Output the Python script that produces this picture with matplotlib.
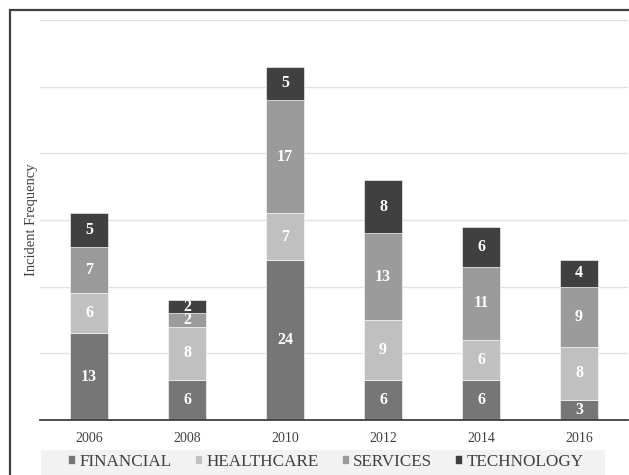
import matplotlib
matplotlib.use("Agg")
import matplotlib.pyplot as plt
from matplotlib.patches import Rectangle
import numpy as np

years = ["2006", "2008", "2010", "2012", "2014", "2016"]
financial = [13, 6, 24, 6, 6, 3]
healthcare = [6, 8, 7, 9, 6, 8]
services = [7, 2, 17, 13, 11, 9]
technology = [5, 2, 5, 8, 6, 4]
series_names = ["FINANCIAL", "HEALTHCARE", "SERVICES", "TECHNOLOGY"]
colors = ["#767676", "#c0c0c0", "#9b9b9b", "#404040"]

plt.rcParams['font.family'] = ['Liberation Serif', 'DejaVu Serif']

W, H = 629, 475
fig = plt.figure(figsize=(W / 100, H / 100), dpi=100)
ax = fig.add_axes([40 / W, (H - 420) / H, 588 / W, 400 / H])

x = np.arange(len(years))
bottom = np.zeros(len(years))
handles = []
for name, vals, c in zip(series_names, [financial, healthcare, services, technology], colors):
    vals = np.array(vals, dtype=float)
    bars = ax.bar(x, vals, 0.39, bottom=bottom, color=c, edgecolor="white", linewidth=0.4, label=name, zorder=3)
    for xi, b, v in zip(x, bottom, vals):
        ax.text(xi, b + v / 2, f"{int(v)}", ha="center", va="center", color="white",
                fontsize=11.5, fontweight="bold", zorder=4)
    bottom += vals
    handles.append(bars)

ax.set_xlim(-0.5, len(years) - 0.5)
ax.set_ylim(0, 60)
ax.set_yticks(np.arange(0, 61, 10))
ax.set_yticklabels([])
ax.tick_params(axis="y", length=0)
ax.yaxis.grid(True, color="#e2e2e2", linewidth=1, zorder=0)
ax.set_xticks(x)
ax.set_xticklabels(years, fontsize=10, color="#404040")
ax.tick_params(axis="x", length=0, pad=9)
for s in ["top", "right", "left"]:
    ax.spines[s].set_visible(False)
ax.spines["bottom"].set_color("#404040")
ax.spines["bottom"].set_linewidth(1.3)
ax.spines["bottom"].set_zorder(5)
ax.set_ylabel("Incident Frequency", fontsize=10.5, color="#404040")
ax.yaxis.set_label_coords(-0.003, 0.5)

# outer chart border (clipped by figure edges)
fig.patches.append(Rectangle((9.5 / W, -0.5), 2.0, 1.5 - 9.5 / H, transform=fig.transFigure,
                             fill=False, edgecolor="#404040", linewidth=1.6))
# legend background band
fig.patches.append(Rectangle((41 / W, 0), (605 - 41) / W, (H - 450) / H, transform=fig.transFigure,
                             facecolor="#f2f2f2", edgecolor="none", zorder=0))

leg = fig.legend(handles=handles, labels=series_names, loc="center", bbox_to_anchor=(326 / W, 1 - 462 / H),
                 ncol=4, frameon=False, fontsize=12.3, handlelength=0.42, handleheight=0.42,
                 handletextpad=0.25, columnspacing=1.35, borderaxespad=0, labelcolor="#404040")

fig.savefig("out.png", dpi=100)
